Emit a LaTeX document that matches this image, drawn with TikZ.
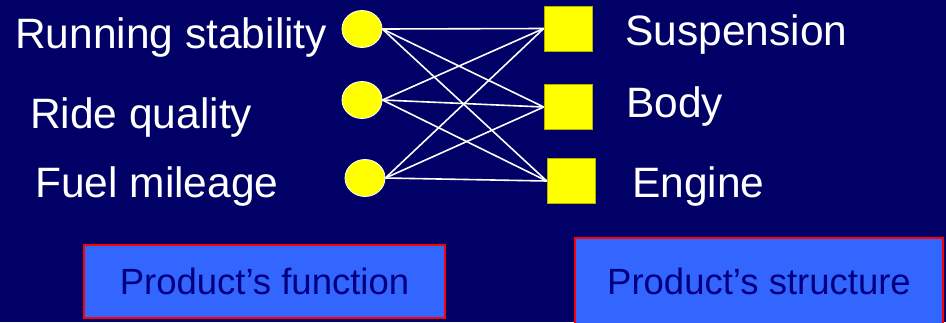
\documentclass[tikz,border=0pt]{standalone}
\usepackage{fontspec}
\setmainfont{Liberation Sans}
\usepackage{xcolor}
\usepackage{tikz}
\usetikzlibrary{shapes.geometric}
\definecolor{slidenavy}{HTML}{000066}
\definecolor{panelblue}{HTML}{3366FF}
\definecolor{paneltext}{HTML}{000080}
\definecolor{markyellow}{HTML}{FFFF00}

\begin{document}
\begin{tikzpicture}[x=1pt, y=-1pt,
  func/.style={ellipse, draw=white, line width=0.8pt, fill=markyellow,
    minimum width=40pt, minimum height=37pt, inner sep=0pt},
  part/.style={rectangle, fill=markyellow, draw=markyellow!70!black, line width=0.5pt,
    minimum width=48pt, minimum height=45pt, inner sep=0pt},
  lbl/.style={anchor=base west, inner sep=0pt, text=white, font=\fontsize{42.5}{48}\selectfont},
  panel/.style={rectangle, draw=red, line width=1.2pt, fill=panelblue, text=paneltext,
    font=\fontsize{36.5}{42}\selectfont, inner sep=0pt},
  link/.style={white, line width=1.6pt},
]
  \fill[slidenavy] (0,0) rectangle (946,322);
  \useasboundingbox (0,0) rectangle (946,322);

  % functions
  \node[func] (f1) at (362,29) {};
  \node[func] (f2) at (362,100) {};
  \node[func] (f3) at (365,178) {};
  \node[lbl] (run) at (15,48) {Running stability};
  \node[lbl] (ride) at (30,128) {Ride quality};
  \node[lbl] (fuel) at (35,197) {Fuel mileage};

  % structure
  \node[part] (s1) at (568,28.5) {};
  \node[part] (s2) at (568,107) {};
  \node[part] (s3) at (571,181) {};
  \node[lbl] (susp) at (625,45) {Suspension};
  \node[lbl] (body) at (626,117) {Body};
  \node[lbl] (eng) at (632,197) {Engine};

  % every function touches every part
  \foreach \f in {f1,f2,f3}
    \foreach \s in {s1,s2,s3}
      \draw[link] (\f.east) -- (\s.west);

  \node[panel, minimum width=361pt, minimum height=73pt] (fnc) at (264.5,281.5) {Product’s function};
  \node[panel, minimum width=368pt, minimum height=86pt] (str) at (759,281) {Product’s structure};
\end{tikzpicture}
\end{document}
